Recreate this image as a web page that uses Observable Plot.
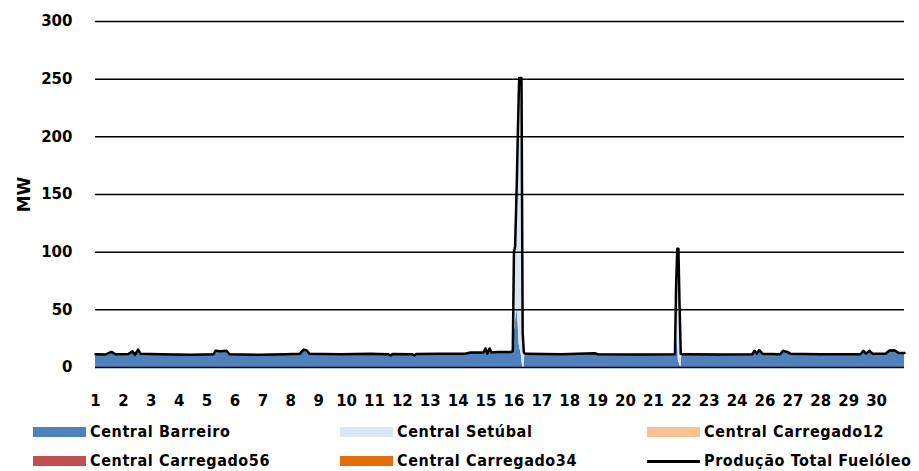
<!DOCTYPE html>
<html>
<head>
<meta charset="utf-8">
<script src="https://cdn.jsdelivr.net/npm/d3@7"></script>
<script src="https://cdn.jsdelivr.net/npm/@observablehq/plot@0.6"></script>
<style>
  html, body { margin: 0; padding: 0; background: #fff; }
  #wrap { position: relative; width: 919px; height: 471px; font-family: "DejaVu Sans", sans-serif; }
  .leg { position: absolute; font: bold 16px "DejaVu Sans Condensed", "DejaVu Sans", sans-serif; font-stretch: condensed; letter-spacing: 0.6px; color: #000; white-space: nowrap; line-height: 18px; }
  .sw { position: absolute; width: 53px; height: 10px; }
  .ln { position: absolute; width: 53px; height: 3px; background: #000; }
</style>
</head>
<body>
<div id="wrap"></div>
<script>
// ---- data (hour index from start of month, MW) ----
const hours = [0, 8.6, 13.8, 17.2, 28.4, 31.8, 34, 36.6, 38.7, 56, 82, 101.5, 103.2, 107.5, 112.7, 115.3, 142, 163, 176, 179, 181.5, 184, 211, 236.6, 252, 253.8, 256, 272.7, 274.4, 276, 296.8, 318, 322.6, 333.8, 335.5, 337, 339, 340.7, 346, 357, 359, 360, 361, 362.5, 363.5, 364.5, 366.5, 367.5, 368.5, 369.5, 370.8, 400, 430, 432, 469, 498.5, 499.5, 500.5, 501.5, 502.5, 503.5, 504.5, 507.6, 537.7, 565, 567, 569, 571, 573.8, 589, 591.5, 595, 598, 623.7, 658, 660.7, 663, 665.8, 668.4, 679.6, 683, 687.4, 690.8, 696];
const barreiro = [11.5, 11.3, 13.5, 11.5, 11.8, 14, 11, 15.5, 12, 11.5, 11, 11.5, 14.5, 14, 14.5, 11.5, 11, 11.5, 12, 15.5, 15, 12, 11.5, 12, 11.5, 10.5, 11.8, 11.5, 10.5, 11.8, 12, 12, 13, 13, 16.5, 12, 16.5, 13, 13.5, 13.5, 14, 30, 35, 52, 40, 20, 10, 0, 0, 12, 12, 11.5, 12.3, 11.5, 11.3, 11.5, 10, 30, 5, 3, 0, 11.5, 11.5, 11.3, 11.5, 14.5, 12, 15, 12, 11.5, 14.5, 13.5, 12, 11.5, 11.5, 14.5, 12, 14.5, 12, 12, 14.8, 15, 12.5, 12.5];
const setubal = [0, 0, 0, 0, 0, 0, 0, 0, 0, 0, 0, 0, 0, 0, 0, 0, 0, 0, 0, 0, 0, 0, 0, 0, 0, 0, 0, 0, 0, 0, 0, 0, 0, 0, 0, 0, 0, 0, 0, 0, 0, 70, 70, 110, 170, 231, 241, 30, 13, 0, 0, 0, 0, 0, 0, 0, 60, 73, 98, 50, 12, 0, 0, 0, 0, 0, 0, 0, 0, 0, 0, 0, 0, 0, 0, 0, 0, 0, 0, 0, 0, 0, 0, 0];
const carregado12 = hours.map(() => 0);
const carregado56 = hours.map(() => 0);
const carregado34 = hours.map(() => 0);

const seriesNames = ["Central Barreiro", "Central Setúbal", "Central Carregado12", "Central Carregado56", "Central Carregado34"];
const seriesColors = ["#4F81BD", "#DCE6F2", "#FAC090", "#C0504D", "#E46C0A"];
const totalName = "Produção Total Fuelóleo";
const dayTicks = [0, 24, 48, 72, 96, 120, 144, 168, 192, 216, 240, 264, 288, 312, 336, 360, 384, 408, 432, 456, 480, 504, 528, 552, 576, 600, 624, 648, 672];
const dayLabels = ["1","2","3","4","5","6","7","8","9","10","11","12","13","14","15","16","17","18","19","20","21","22","23","24","26","27","28","29","30"];
const yTicks = [0, 50, 100, 150, 200, 250, 300];

// ---- build tidy table ----
const seriesValues = [barreiro, setubal, carregado12, carregado56, carregado34];
const tidy = [];
seriesNames.forEach((name, si) => {
  hours.forEach((h, i) => tidy.push({h, series: name, value: seriesValues[si][i]}));
});
const totals = hours.map((h, i) => ({h, total: seriesValues.reduce((s, arr) => s + arr[i], 0)}));

const chart = Plot.plot({
  width: 919,
  height: 415,
  marginLeft: 95,
  marginRight: 15,
  marginTop: 21,
  marginBottom: 48,
  style: {fontFamily: "'DejaVu Sans', sans-serif", fontSize: "15px", fontWeight: "bold", color: "#000", background: "#fff"},
  x: {domain: [0, 696], ticks: dayTicks, tickFormat: (d) => dayLabels[dayTicks.indexOf(d)], tickSize: 0, tickPadding: 28, label: null},
  y: {domain: [0, 300], ticks: yTicks, tickSize: 0, tickPadding: 23, label: "MW", labelAnchor: "center", labelArrow: "none", labelOffset: 78},
  color: {domain: seriesNames, range: seriesColors},
  marks: [
    Plot.areaY(tidy, {x: "h", y: "value", fill: "series", order: seriesNames, curve: "linear"}),
    Plot.ruleY(yTicks.filter(d => d > 0), {stroke: "#000", strokeWidth: 1.5}),
    Plot.ruleY([0], {stroke: "#000", strokeWidth: 1.5}),
    Plot.lineY(totals, {x: "h", y: "total", stroke: "#000", strokeWidth: 2.5, strokeLinejoin: "round"})
  ]
});
chart.style.position = "absolute";
chart.style.left = "0px";
chart.style.top = "0px";
const wrap = document.getElementById("wrap");
wrap.appendChild(chart);
chart.querySelectorAll("[aria-label='y-axis label'] text").forEach(t => t.setAttribute("font-size", "17px"));

// ---- legend ----
const legendItems = [
  {name: seriesNames[0], color: seriesColors[0], col: 0, row: 0},
  {name: seriesNames[1], color: seriesColors[1], col: 1, row: 0},
  {name: seriesNames[2], color: seriesColors[2], col: 2, row: 0},
  {name: seriesNames[3], color: seriesColors[3], col: 0, row: 1},
  {name: seriesNames[4], color: seriesColors[4], col: 1, row: 1},
  {name: totalName, color: null, col: 2, row: 1}
];
const colX = [33, 340, 647];
const rowY = [432, 461];
legendItems.forEach(it => {
  const sw = document.createElement("div");
  if (it.color) {
    sw.className = "sw";
    sw.style.background = it.color;
    sw.style.left = colX[it.col] + "px";
    sw.style.top = (rowY[it.row] - 5) + "px";
  } else {
    sw.className = "ln";
    sw.style.left = colX[it.col] + "px";
    sw.style.top = (rowY[it.row] - 1.5) + "px";
  }
  wrap.appendChild(sw);
  const tx = document.createElement("div");
  tx.className = "leg";
  tx.textContent = it.name;
  tx.style.left = (colX[it.col] + 57) + "px";
  tx.style.top = (rowY[it.row] - 9) + "px";
  wrap.appendChild(tx);
});
</script>
</body>
</html>
